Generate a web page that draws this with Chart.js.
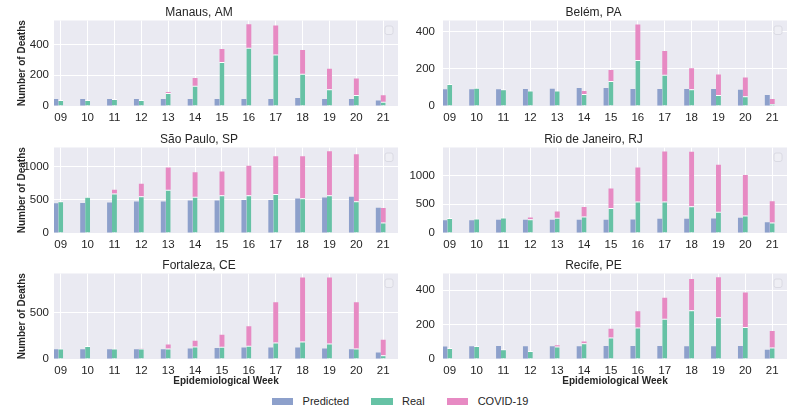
<!DOCTYPE html>
<html>
<head>
<meta charset="utf-8">
<script src="https://cdn.jsdelivr.net/npm/chart.js@4.4.1/dist/chart.umd.min.js"></script>
<style>
  body { margin: 0; width: 800px; height: 417px; background: #fff; position: relative; overflow: hidden;
         font-family: 'Liberation Sans', Arial, sans-serif; }
  .panel { position: absolute; }
  .legend { position: absolute; left: 0; top: 394px; width: 800px; height: 14px; display: flex;
            justify-content: center; gap: 22px; font-size: 11px; color: #262626; }
  .item { display: flex; align-items: center; line-height: 14px; }
  .patch { width: 21.5px; height: 7px; margin-right: 9.5px; }
</style>
</head>
<body>
<div class="panel" id="p0"><canvas id="c0"></canvas></div>
<div class="panel" id="p1"><canvas id="c1"></canvas></div>
<div class="panel" id="p2"><canvas id="c2"></canvas></div>
<div class="panel" id="p3"><canvas id="c3"></canvas></div>
<div class="panel" id="p4"><canvas id="c4"></canvas></div>
<div class="panel" id="p5"><canvas id="c5"></canvas></div>
<div class="legend">
  <div class="item"><span class="patch" style="background:#8da0cb"></span>Predicted</div>
  <div class="item"><span class="patch" style="background:#66c2a5"></span>Real</div>
  <div class="item"><span class="patch" style="background:#e78ac3"></span>COVID-19</div>
</div>
<script>
// Epidemiological weeks
const weeks = ['09', '10', '11', '12', '13', '14', '15', '16', '17', '18', '19', '20', '21'];

// Manaus, AM
const manausPredicted = [45, 45, 45, 45, 45, 45, 45, 45, 45, 52, 45, 45, 35];
const manausReal      = [39, 39, 45, 39, 84, 132, 285, 378, 335, 210, 108, 71, 28];
const manausCovid     = [0, 0, 0, 0, 7, 50, 85, 152, 188, 153, 134, 108, 41];

// Belém, PA
const belemPredicted = [90, 90, 90, 91, 93, 97, 97, 91, 91, 91, 91, 88, 59];
const belemReal      = [118, 99, 90, 84, 83, 65, 135, 248, 169, 90, 59, 52, 11];
const belemCovid     = [0, 0, 0, 0, 0, 16, 59, 192, 127, 113, 111, 102, 27];

// São Paulo, SP
const spPredicted = [447, 452, 457, 472, 472, 487, 487, 497, 497, 518, 533, 543, 381];
const spReal      = [477, 543, 594, 553, 650, 543, 568, 568, 584, 523, 568, 477, 157];
const spCovid     = [0, 0, 56, 188, 335, 371, 356, 442, 568, 629, 660, 706, 219];

// Rio de Janeiro, RJ
const rioPredicted = [223, 223, 229, 229, 229, 229, 229, 235, 247, 247, 253, 265, 188];
const rioReal      = [259, 253, 270, 241, 265, 288, 435, 547, 547, 465, 370, 306, 182];
const rioCovid     = [0, 0, 0, 29, 111, 165, 341, 594, 870, 950, 818, 705, 371];

// Fortaleza, CE
const fortalezaPredicted = [106, 106, 106, 106, 106, 113, 120, 124, 124, 124, 113, 106, 69];
const fortalezaReal      = [113, 139, 113, 113, 113, 135, 131, 142, 179, 190, 168, 113, 40];
const fortalezaCovid     = [0, 0, 0, 4, 44, 62, 132, 212, 434, 690, 712, 500, 168];

// Recife, PE
const recifePredicted = [72, 74, 76, 74, 74, 74, 76, 76, 76, 74, 74, 76, 53];
const recifeReal      = [64, 76, 57, 47, 72, 92, 125, 183, 234, 283, 242, 185, 66];
const recifeCovid     = [0, 0, 0, 0, 8, 9, 51, 94, 121, 181, 232, 201, 96];

const titles = ['Manaus, AM', 'Belém, PA', 'São Paulo, SP', 'Rio de Janeiro, RJ', 'Fortaleza, CE', 'Recife, PE'];
const predicted = [manausPredicted, belemPredicted, spPredicted, rioPredicted, fortalezaPredicted, recifePredicted];
const real = [manausReal, belemReal, spReal, rioReal, fortalezaReal, recifeReal];
const covid = [manausCovid, belemCovid, spCovid, rioCovid, fortalezaCovid, recifeCovid];

// y axis limits and tick values per panel
const yMax = [555, 461, 1284, 1488, 923, 496];
const yTicks = [[0, 200, 400], [0, 200, 400], [0, 500, 1000], [0, 500, 1000], [0, 500], [0, 200, 400]];

Chart.defaults.font.family = "'Liberation Sans', Arial, sans-serif";
Chart.defaults.color = '#262626';

// seaborn-like panel background plus the empty legend frame in the corner
const panelStyle = {
  id: 'panelStyle',
  beforeDraw(chart) {
    const { ctx, chartArea: a } = chart;
    ctx.save();
    ctx.fillStyle = '#eaeaf2';
    ctx.fillRect(a.left, a.top, a.right - a.left, a.bottom - a.top);
    ctx.restore();
  },
  afterDraw(chart) {
    const { ctx, chartArea: a } = chart;
    ctx.save();
    ctx.beginPath();
    ctx.roundRect(a.right - 13, a.top + 5.5, 8, 8.5, 2);
    ctx.fillStyle = '#eeeef4';
    ctx.fill();
    ctx.strokeStyle = '#d6d6de';
    ctx.lineWidth = 0.8;
    ctx.stroke();
    ctx.restore();
  }
};

const toPoints = arr => arr.map((v, i) => ({ x: i, y: v }));

for (let i = 0; i < 6; i++) {
  const col = i % 2, row = Math.floor(i / 2);
  const bottomRow = row === 2;
  const tops = [0, 126.5, 252.5];
  const height = bottomRow ? 134.5 : 126;
  const xHeight = bottomRow ? 28.5 : 20;

  const box = document.getElementById('p' + i);
  box.style.left = (col * 400) + 'px';
  box.style.top = tops[row] + 'px';
  box.style.width = '400px';
  box.style.height = height + 'px';

  new Chart(document.getElementById('c' + i), {
    type: 'bar',
    data: {
      datasets: [
        { label: 'Predicted', data: toPoints(predicted[i]), backgroundColor: '#8da0cb', stack: 'pred' },
        { label: 'Real', data: toPoints(real[i]), backgroundColor: '#66c2a5', stack: 'real',
          borderColor: '#ffffff', borderWidth: { top: 1, left: 0, right: 0, bottom: 0 } },
        { label: 'COVID-19', data: toPoints(covid[i]), backgroundColor: '#e78ac3', stack: 'real' }
      ]
    },
    options: {
      responsive: true,
      maintainAspectRatio: false,
      animation: false,
      categoryPercentage: 0.55,
      barPercentage: 1,
      layout: { padding: { left: 0, right: col === 0 ? 2 : 13, top: 0, bottom: 0 } },
      plugins: {
        legend: { display: false },
        tooltip: { enabled: false },
        title: {
          display: true,
          text: titles[i],
          color: '#262626',
          font: { size: 12, weight: 'normal', lineHeight: 1.2 },
          padding: { top: 5, bottom: 1.1 }
        }
      },
      scales: {
        x: {
          type: 'linear',
          min: -0.25,
          max: 12.55,
          offset: false,
          stacked: false,
          grid: { color: '#ffffff', lineWidth: 1, drawTicks: false, offset: false },
          border: { display: false },
          ticks: {
            autoSkip: false,
            maxRotation: 0,
            padding: 5,
            font: { size: 11.5 },
            callback: v => weeks[v]
          },
          afterBuildTicks: s => { s.ticks = weeks.map((w, k) => ({ value: k })); },
          title: {
            display: bottomRow,
            text: 'Epidemiological Week',
            font: { size: 10, weight: 'bold', lineHeight: 1.2 },
            padding: { top: 0, bottom: 0 }
          },
          afterFit: s => { s.height = xHeight; }
        },
        y: {
          min: 0,
          max: yMax[i],
          stacked: true,
          grid: { color: '#ffffff', lineWidth: 1, drawTicks: false },
          border: { display: false },
          ticks: {
            padding: col === 0 ? 5 : 8,
            font: { size: 11.5 },
            callback: v => String(v)
          },
          afterBuildTicks: s => { s.ticks = yTicks[i].map(v => ({ value: v })); },
          title: {
            display: col === 0,
            text: 'Number of Deaths',
            font: { size: 10, weight: 'bold', lineHeight: 1.2 },
            padding: { top: 16.5, bottom: 0 }
          },
          afterFit: s => { s.width = col === 0 ? 54 : 43; }
        }
      }
    },
    plugins: [panelStyle]
  });
}
</script>
</body>
</html>
